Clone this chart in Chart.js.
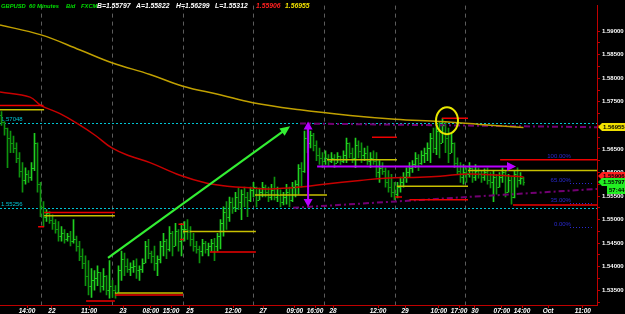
<!DOCTYPE html>
<html>
<head>
<meta charset="utf-8">
<script src="https://cdn.jsdelivr.net/npm/chart.js@4.4.1/dist/chart.umd.min.js"></script>
<style>html,body{margin:0;padding:0;background:#000;overflow:hidden}</style>
</head>
<body>
<canvas id="c" width="625" height="314"></canvas>
<script>
// GBPUSD 60 min bars
const highs = [
  1.5729,1.5708,1.5694,1.5688,1.5677,1.5663,1.5642,1.5621,1.5610,1.5604,
  1.5621,1.5683,1.5663,1.5579,1.5538,1.5521,1.5517,1.5510,1.5500,1.5496,
  1.5485,1.5479,1.5471,1.5475,1.5500,1.5465,1.5454,1.5438,1.5423,1.5413,
  1.5396,1.5392,1.5402,1.5388,1.5396,1.5381,1.5413,1.5371,1.5360,1.5402,
  1.5433,1.5429,1.5417,1.5408,1.5413,1.5417,1.5402,1.5417,1.5454,1.5458,
  1.5433,1.5444,1.5423,1.5454,1.5471,1.5458,1.5485,1.5475,1.5492,1.5479,
  1.5492,1.5496,1.5500,1.5485,1.5471,1.5454,1.5444,1.5458,1.5454,1.5450,
  1.5458,1.5460,1.5471,1.5500,1.5527,1.5538,1.5548,1.5546,1.5558,1.5567,
  1.5563,1.5569,1.5558,1.5569,1.5579,1.5569,1.5567,1.5579,1.5573,1.5569,
  1.5575,1.5590,1.5569,1.5563,1.5558,1.5575,1.5569,1.5579,1.5583,1.5617,
  1.5621,1.5688,1.5694,1.5688,1.5683,1.5667,1.5652,1.5642,1.5646,1.5638,
  1.5642,1.5638,1.5642,1.5635,1.5646,1.5673,1.5663,1.5652,1.5673,1.5667,
  1.5663,1.5652,1.5656,1.5642,1.5646,1.5642,1.5625,1.5621,1.5610,1.5604,
  1.5596,1.5579,1.5579,1.5590,1.5600,1.5610,1.5621,1.5625,1.5642,1.5638,
  1.5646,1.5652,1.5663,1.5683,1.5694,1.5700,1.5708,1.5715,1.5708,1.5694,
  1.5683,1.5663,1.5631,1.5621,1.5617,1.5610,1.5621,1.5610,1.5617,1.5610,
  1.5604,1.5608,1.5610,1.5600,1.5604,1.5596,1.5600,1.5610,1.5604,1.5596,
  1.5590,1.5604,1.5610,1.5600,1.5590
];
const lows = [
  1.5700,1.5679,1.5610,1.5642,1.5642,1.5621,1.5590,1.5558,1.5575,1.5579,
  1.5583,1.5604,1.5558,1.5506,1.5485,1.5496,1.5492,1.5479,1.5471,1.5454,
  1.5454,1.5450,1.5454,1.5444,1.5450,1.5433,1.5413,1.5396,1.5360,1.5340,
  1.5335,1.5350,1.5360,1.5346,1.5350,1.5340,1.5333,1.5335,1.5333,1.5346,
  1.5371,1.5381,1.5388,1.5381,1.5388,1.5375,1.5371,1.5388,1.5408,1.5417,
  1.5408,1.5392,1.5381,1.5408,1.5423,1.5417,1.5433,1.5423,1.5444,1.5433,
  1.5423,1.5454,1.5458,1.5444,1.5433,1.5429,1.5408,1.5423,1.5429,1.5423,
  1.5433,1.5413,1.5433,1.5438,1.5465,1.5479,1.5496,1.5513,1.5517,1.5521,
  1.5500,1.5527,1.5506,1.5538,1.5548,1.5527,1.5542,1.5548,1.5548,1.5538,
  1.5542,1.5542,1.5538,1.5527,1.5531,1.5533,1.5527,1.5538,1.5548,1.5554,
  1.5569,1.5600,1.5642,1.5652,1.5646,1.5625,1.5617,1.5610,1.5617,1.5615,
  1.5621,1.5610,1.5621,1.5617,1.5621,1.5621,1.5631,1.5621,1.5610,1.5631,
  1.5621,1.5625,1.5617,1.5610,1.5617,1.5590,1.5579,1.5596,1.5569,1.5558,
  1.5548,1.5542,1.5546,1.5558,1.5569,1.5579,1.5590,1.5600,1.5610,1.5604,
  1.5617,1.5621,1.5625,1.5621,1.5642,1.5638,1.5631,1.5663,1.5642,1.5621,
  1.5642,1.5610,1.5596,1.5579,1.5575,1.5579,1.5590,1.5579,1.5583,1.5588,
  1.5579,1.5583,1.5575,1.5567,1.5538,1.5554,1.5569,1.5579,1.5548,1.5558,
  1.5533,1.5546,1.5569,1.5575,1.5573
];
const closes = [
  1.5708,1.5694,1.5673,1.5663,1.5652,1.5631,1.5604,1.5583,1.5596,1.5590,
  1.5610,1.5663,1.5575,1.5527,1.5506,1.5513,1.5500,1.5492,1.5479,1.5465,
  1.5471,1.5458,1.5465,1.5454,1.5458,1.5444,1.5423,1.5408,1.5381,1.5360,
  1.5371,1.5375,1.5388,1.5360,1.5381,1.5350,1.5360,1.5350,1.5346,1.5392,
  1.5417,1.5402,1.5396,1.5400,1.5402,1.5392,1.5396,1.5408,1.5444,1.5429,
  1.5423,1.5408,1.5417,1.5444,1.5454,1.5438,1.5471,1.5444,1.5475,1.5454,
  1.5479,1.5479,1.5475,1.5458,1.5444,1.5438,1.5433,1.5450,1.5438,1.5444,
  1.5450,1.5444,1.5465,1.5492,1.5517,1.5506,1.5538,1.5527,1.5548,1.5538,
  1.5554,1.5548,1.5542,1.5563,1.5569,1.5542,1.5558,1.5569,1.5558,1.5548,
  1.5563,1.5548,1.5554,1.5538,1.5548,1.5558,1.5542,1.5569,1.5575,1.5610,
  1.5604,1.5673,1.5663,1.5679,1.5658,1.5638,1.5631,1.5625,1.5631,1.5625,
  1.5631,1.5621,1.5635,1.5625,1.5638,1.5663,1.5642,1.5631,1.5658,1.5646,
  1.5638,1.5642,1.5625,1.5631,1.5625,1.5600,1.5610,1.5604,1.5579,1.5569,
  1.5558,1.5554,1.5569,1.5579,1.5590,1.5600,1.5610,1.5617,1.5631,1.5621,
  1.5638,1.5642,1.5652,1.5673,1.5652,1.5688,1.5663,1.5700,1.5673,1.5642,
  1.5663,1.5621,1.5604,1.5590,1.5600,1.5596,1.5610,1.5590,1.5604,1.5596,
  1.5590,1.5600,1.5583,1.5579,1.5590,1.5569,1.5590,1.5600,1.5558,1.5583,
  1.5548,1.5596,1.5583,1.5588,1.5580
];
const firstOpen = 1.5722;
const opens = closes.map((c, i) => i === 0 ? firstOpen : closes[i - 1]);

// moving averages (bar index, price)
const maSlowX = [-0.5, 13.2, 26.2, 36.8, 49.5, 60.5, 72.8, 83.8, 99.5, 116.2, 131.2, 146.2, 159.5, 174];
const maSlowY = [1.5913, 1.5892, 1.5860, 1.5833, 1.5808, 1.5783, 1.5765, 1.5748, 1.5733, 1.5721, 1.5713, 1.5708, 1.5702, 1.56955];
const maFastX = [-0.5, 9.5, 13.2, 19.5, 25.2, 31.2, 36.8, 42.8, 49.5, 59.5, 68.5, 75.2, 83.8, 89.5, 99.5, 107.5, 119.5, 127.8, 139.5, 146.2, 156.2, 174];
const maFastY = [1.5771, 1.5760, 1.5742, 1.5725, 1.5704, 1.5679, 1.5652, 1.5635, 1.5621, 1.5594, 1.5577, 1.5571, 1.5567, 1.5565, 1.5569, 1.5575, 1.5583, 1.5588, 1.5590, 1.5592, 1.5597, 1.55906];

// horizontal level segments: from, to (bar index), price, kind
const segFrom  = [-0.5, -0.5, 14.2, 14.2, 12.2, 28.2, 37.8, 37.8, 60.5, 69.5, 84.5, 123.5, 108.5, 131.8, 136, 146.8, 155.5, 166.2, 170.5, 59, 59.5, 131.2];
const segTo    = [14, 14.2, 37.8, 37.8, 14.2, 37.8, 60.5, 60.5, 84.8, 84.8, 108.5, 131.8, 131.8, 155.5, 155.5, 155.5, 198.5, 198.5, 198.5, 60.8, 60.8, 133.5];
const segPrice = [1.5742, 1.5733, 1.5515, 1.5508, 1.5485, 1.5327, 1.5344, 1.5340, 1.5475, 1.5431, 1.5552, 1.5675, 1.5627, 1.5571, 1.5542, 1.5715, 1.5604, 1.5627, 1.5531, 1.5490, 1.5458, 1.5548];
const segKind  = ['r','y','r','y','r','r','y','r','y','r','y','r','y','y','r','r','y','r','r','r','r','r'];

// channel lines
const chanLowX = [97.2, 198.5], chanLowY = [1.5525, 1.5565];
const chanHighX = [99.5, 198.5], chanHighY = [1.5704, 1.5696];

// fixed levels
const cyanLevels = [1.57048, 1.55256];
const daySeps = [13.2, 36.8, 60.5, 83.8, 107.5, 131.2, 154.5];

// fibo
const fibLow = 1.5483, fibHigh = 1.5627;
const fibLevels = [1, 0.65, 0.35, 0];

// x axis labels
const xTickPos = [8.5, 16.8, 29.2, 40.5, 49.8, 56.5, 62.8, 77.2, 87.2, 97.8, 104.5, 110.5, 125.5, 134.5, 145.8, 152.5, 157.8, 166.8, 173.5, 182.2, 193.8];
const xTickLabels = ['14:00', '22', '11:00', '23', '08:00', '15:00', '25', '12:00', '27', '09:00', '16:00', '28', '12:00', '29', '10:00', '17:00', '30', '07:00', '14:00', 'Oct', '11:00'];

const titleTexts = ['GBPUSD', '60 Minutes', 'Bid', 'FXCM', 'B=1.55797', 'A=1.55822', 'H=1.56299', 'L=1.55312', '1.55906', '1.56955'];
const lastPrice = 1.55797, maFastLast = 1.55906, maSlowLast = 1.56955;
const timer = '57:44';

// drawn notes
const greenArrow = [35.5, 1.54187, 96.2, 1.56979];
const vArrow = [102.2, 1.5527, 1.5708];
const hArrow = [105.2, 171.5, 1.56125];
const circleAt = [148.5, 1.5710];

const FF = "'Liberation Sans', Arial, sans-serif";
const upCol = '#20d020', dnCol = '#0e940e';
const barCols = closes.map((c, i) => c >= opens[i] ? upCol : dnCol);

function arrowHead(ctx, x1, y1, x2, y2, len, w) {
  const a = Math.atan2(y2 - y1, x2 - x1);
  ctx.beginPath();
  ctx.moveTo(x2, y2);
  ctx.lineTo(x2 - len * Math.cos(a) + w / 2 * Math.sin(a), y2 - len * Math.sin(a) - w / 2 * Math.cos(a));
  ctx.lineTo(x2 - len * Math.cos(a) - w / 2 * Math.sin(a), y2 - len * Math.sin(a) + w / 2 * Math.cos(a));
  ctx.closePath();
  ctx.fill();
}
function line(ctx, x1, y1, x2, y2) {
  ctx.beginPath(); ctx.moveTo(x1, y1); ctx.lineTo(x2, y2); ctx.stroke();
}
function tag(ctx, xL, xR, yc, h, bg, fg, text) {
  ctx.fillStyle = bg;
  ctx.beginPath();
  ctx.moveTo(xL, yc);
  ctx.lineTo(xL + 4, yc - h / 2);
  ctx.lineTo(xR, yc - h / 2);
  ctx.lineTo(xR, yc + h / 2);
  ctx.lineTo(xL + 4, yc + h / 2);
  ctx.closePath();
  ctx.fill();
  ctx.fillStyle = fg;
  ctx.font = 'bold 6px ' + FF;
  ctx.textAlign = 'left';
  ctx.textBaseline = 'middle';
  ctx.fillText(text, xL + 5, yc + 0.5);
}

const marks = {
  id: 'marks',
  beforeDatasetsDraw(chart) {
    const {ctx, chartArea: a, scales: {x, y}} = chart;
    ctx.save();
    ctx.lineWidth = 1;
    ctx.strokeStyle = '#5c5c5c';
    ctx.setLineDash([4, 4]);
    daySeps.forEach(d => {
      const px = Math.round(x.getPixelForValue(d)) + 0.5;
      line(ctx, px, a.top, px, a.bottom);
    });
    ctx.strokeStyle = '#00c4d4';
    ctx.setLineDash([2, 2]);
    ctx.fillStyle = '#00c4d4';
    ctx.font = '6px ' + FF;
    ctx.textAlign = 'left';
    ctx.textBaseline = 'bottom';
    cyanLevels.forEach(v => {
      const py = Math.round(y.getPixelForValue(v)) + 0.5;
      line(ctx, a.left, py, a.right, py);
      ctx.fillText(v.toFixed(5), a.left + 1, py - 1);
    });
    ctx.restore();
  },
  afterDatasetsDraw(chart) {
    const {ctx, chartArea: a, scales: {x, y}} = chart;
    ctx.save();
    // open / close ticks
    closes.forEach((c, i) => {
      const px = x.getPixelForValue(i);
      ctx.fillStyle = barCols[i];
      ctx.fillRect(px - 1.5, Math.round(y.getPixelForValue(opens[i])), 1, 1);
      ctx.fillRect(px + 0.5, Math.round(y.getPixelForValue(c)), 1, 1);
    });
    // fibo labels
    ctx.font = '6px ' + FF;
    ctx.textAlign = 'right';
    ctx.textBaseline = 'bottom';
    fibLevels.forEach(l => {
      const v = fibLow + (fibHigh - fibLow) * l;
      const py = Math.round(y.getPixelForValue(v)) + 0.5;
      ctx.fillStyle = '#2a2ad0';
      ctx.fillText((l * 100).toFixed(2) + '%', x.getPixelForValue(189.8), py - 1);
      if (l < 1) {
        ctx.strokeStyle = '#2a2ad0';
        ctx.lineWidth = 1;
        ctx.setLineDash([1, 2]);
        line(ctx, x.getPixelForValue(189.5), py - 1, x.getPixelForValue(196.8), py - 1);
        ctx.setLineDash([]);
      }
    });
    // green arrow
    const gx1 = x.getPixelForValue(greenArrow[0]), gy1 = y.getPixelForValue(greenArrow[1]);
    const gx2 = x.getPixelForValue(greenArrow[2]), gy2 = y.getPixelForValue(greenArrow[3]);
    ctx.strokeStyle = '#33ee33'; ctx.fillStyle = '#33ee33'; ctx.lineWidth = 2.2;
    const ga = Math.atan2(gy2 - gy1, gx2 - gx1);
    line(ctx, gx1, gy1, gx2 - 7 * Math.cos(ga), gy2 - 7 * Math.sin(ga));
    arrowHead(ctx, gx1, gy1, gx2, gy2, 10, 9);
    // magenta arrows
    ctx.strokeStyle = '#b800ff'; ctx.fillStyle = '#b800ff'; ctx.lineWidth = 2;
    const vx = x.getPixelForValue(vArrow[0]);
    const vy1 = y.getPixelForValue(vArrow[1]), vy2 = y.getPixelForValue(vArrow[2]);
    line(ctx, vx, vy1 - 6, vx, vy2 + 6);
    arrowHead(ctx, vx, vy2, vx, vy1, 8, 9);
    arrowHead(ctx, vx, vy1, vx, vy2, 8, 9);
    const hx1 = x.getPixelForValue(hArrow[0]), hx2 = x.getPixelForValue(hArrow[1]);
    const hy = y.getPixelForValue(hArrow[2]);
    line(ctx, hx1, hy, hx2 - 6, hy);
    arrowHead(ctx, hx1, hy, hx2, hy, 9, 9);
    // circle
    ctx.strokeStyle = '#e8e800'; ctx.lineWidth = 2;
    ctx.beginPath();
    ctx.ellipse(x.getPixelForValue(circleAt[0]), y.getPixelForValue(circleAt[1]), 11, 13.5, 0, 0, Math.PI * 2);
    ctx.stroke();
    ctx.restore();
  },
  afterDraw(chart) {
    const {ctx, chartArea: a, scales: {y}} = chart;
    const W = chart.width;
    ctx.save();
    tag(ctx, a.right + 1, W, Math.round(y.getPixelForValue(maSlowLast)), 8, '#f0e000', '#000', maSlowLast.toFixed(5));
    tag(ctx, a.right + 1, W, Math.round(y.getPixelForValue(maFastLast)) - 1, 8, '#ff2020', '#000', maFastLast.toFixed(5));
    const lp = Math.round(y.getPixelForValue(lastPrice));
    tag(ctx, a.right + 1, W, lp, 8, '#22ee22', '#000', lastPrice.toFixed(5));
    ctx.fillStyle = '#22ee22';
    ctx.fillRect(a.right + 10, lp + 4, W - a.right - 10, 8);
    ctx.fillStyle = '#000';
    ctx.font = 'bold 6px ' + FF;
    ctx.textBaseline = 'middle';
    ctx.fillText(timer, a.right + 12, lp + 8.5);
    // title
    const tx = [1, 29, 66, 81, 97, 136, 176, 215, 256, 285];
    const tc = ['#00dd00', '#00dd00', '#00dd00', '#00dd00', '#fff', '#fff', '#fff', '#fff', '#ff2020', '#f0e000'];
    titleTexts.forEach((t, i) => {
      ctx.fillStyle = tc[i];
      ctx.font = (i < 4 ? 'italic bold 5.8px ' : 'italic bold 6.8px ') + FF;
      ctx.textAlign = 'left';
      ctx.textBaseline = 'middle';
      ctx.fillText(t, tx[i], 6.5);
    });
    ctx.restore();
  }
};

const datasets = [{
  type: 'bar',
  data: highs.map((h, i) => ({x: i, y: [lows[i], h]})),
  backgroundColor: barCols,
  barThickness: 1,
  borderWidth: 0,
  order: 10
}, {
  type: 'line',
  data: maSlowX.map((v, i) => ({x: v, y: maSlowY[i]})),
  borderColor: '#c0a000', borderWidth: 1.5, pointRadius: 0, tension: 0.4, order: 3
}, {
  type: 'line',
  data: maFastX.map((v, i) => ({x: v, y: maFastY[i]})),
  borderColor: '#c80000', borderWidth: 1.5, pointRadius: 0, tension: 0.4, order: 3
}, {
  type: 'line',
  data: chanLowX.map((v, i) => ({x: v, y: chanLowY[i]})),
  borderColor: '#720072', borderWidth: 2, borderDash: [6, 3, 2, 3], pointRadius: 0, order: 4
}, {
  type: 'line',
  data: chanHighX.map((v, i) => ({x: v, y: chanHighY[i]})),
  borderColor: '#720072', borderWidth: 2, borderDash: [6, 3, 2, 3], pointRadius: 0, order: 4
}];
segPrice.forEach((p, i) => {
  datasets.push({
    type: 'line',
    data: [{x: segFrom[i], y: p}, {x: segTo[i], y: p}],
    borderColor: segKind[i] === 'r' ? '#ee0000' : '#c8c000',
    borderWidth: 1.5, pointRadius: 0, order: 2
  });
});

new Chart(document.getElementById('c'), {
  type: 'bar',
  data: {datasets},
  options: {
    responsive: false,
    animation: false,
    devicePixelRatio: 1,
    layout: {padding: 0},
    plugins: {legend: {display: false}, tooltip: {enabled: false}},
    scales: {
      x: {
        type: 'linear', min: -0.5, max: 198.5, offset: false,
        grid: {drawOnChartArea: false, offset: false, color: '#c00000', tickLength: 3},
        border: {color: '#c00000'},
        ticks: {
          autoSkip: false, maxRotation: 0, minRotation: 0, padding: -1,
          color: '#fff', font: {family: FF, size: 6.5, weight: 'bold', style: 'italic'},
          callback: (v, i) => xTickLabels[i]
        },
        afterBuildTicks: s => { s.ticks = xTickPos.map(v => ({value: v})); },
        afterFit: s => { s.height = 9; }
      },
      y: {
        type: 'linear', position: 'right', min: 1.531875, max: 1.595417,
        grid: {drawOnChartArea: false, color: '#c00000', tickLength: 3},
        border: {color: '#c00000'},
        ticks: {
          stepSize: 0.0025, includeBounds: false, autoSkip: false, padding: 2,
          color: '#fff', font: {family: FF, size: 6, weight: 'bold'},
          callback: v => Math.round(v * 10000) % 50 === 0 ? v.toFixed(5) : ''
        },
        afterBuildTicks: s => { s.ticks = s.ticks.filter(t => t.value < 1.592); },
        afterFit: s => { s.width = 28; }
      }
    }
  },
  plugins: [marks]
});
</script>
</body>
</html>
